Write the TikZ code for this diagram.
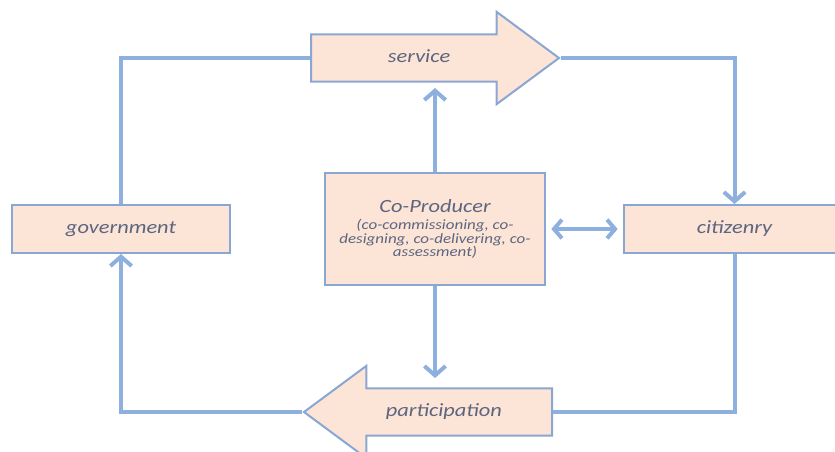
\documentclass[tikz,border=0pt]{standalone}
\usepackage{fontspec}
\setmainfont{Carlito}
\newfontfamily\diagfont[FakeStretch=1.2]{Carlito}
\usetikzlibrary{shapes.arrows, arrows.meta}
\definecolor{peach}{RGB}{252,228,214}
\definecolor{edgeblue}{RGB}{138,166,210}
\definecolor{linkblue}{RGB}{141,176,222}
\definecolor{labelgray}{RGB}{92,102,128}

\begin{document}
\begin{tikzpicture}[
    x=0.75pt, y=-0.75pt,
    box/.style={rectangle, draw=edgeblue, line width=1.5pt, fill=peach, text=labelgray, font=\diagfont\itshape\fontsize{14}{16}\selectfont, minimum height=36pt, align=center},
    flow/.style={single arrow, draw=edgeblue, line width=1.5pt, fill=peach, text=labelgray, font=\diagfont\itshape\fontsize{14}{16}\selectfont, minimum height=186pt, minimum width=67.5pt, single arrow head extend=16.9pt, single arrow tip angle=73, text height=8pt, text depth=2pt, inner ysep=11.9pt},
    link/.style={draw=linkblue, line width=3pt},
    arrow/.style={link, -{Straight Barb[length=7pt, width=16pt]}},
    both/.style={link, {Straight Barb[length=6pt, width=14pt]}-{Straight Barb[length=6pt, width=14pt]}}
]
\useasboundingbox (0,0) rectangle (835,451);

% Service and participation
\node[flow, anchor=tail] (service) at (310,58) {service};
\node[flow, shape border rotate=180, anchor=tail] (participation) at (553,412) {participation};

% Actors
\node[box, minimum width=163.5pt] (government) at (121,229) {government};
\node[box, minimum width=165.75pt] (citizenry) at (734.5,229) {citizenry};

% Co-Producer
\node[box, font=\diagfont\itshape\fontsize{10.6}{9.8}\selectfont, minimum width=165pt, minimum height=84pt] (co_producer) at (435,229)
    {{\fontsize{14}{16}\selectfont Co-Producer}\\[3pt]
     (co-commissioning, co-\\
     designing, co-delivering, co-\\
     assessment)};

\draw[link] (government.north) |- (service.tail);
\draw[arrow] (service.tip) -| (citizenry.north);
\draw[link] (citizenry.south) |- (participation.tail);
\draw[arrow] (participation.tip) -| (government.south);
\draw[arrow, shorten >=22.5pt] (co_producer.north) -- (co_producer.north |- service.tail);
\draw[arrow, shorten >=25.5pt] (co_producer.south) -- (co_producer.south |- participation.tail);
\draw[both, shorten <=4pt, shorten >=4pt] (co_producer.east) -- (citizenry.west);

\end{tikzpicture}
\end{document}
